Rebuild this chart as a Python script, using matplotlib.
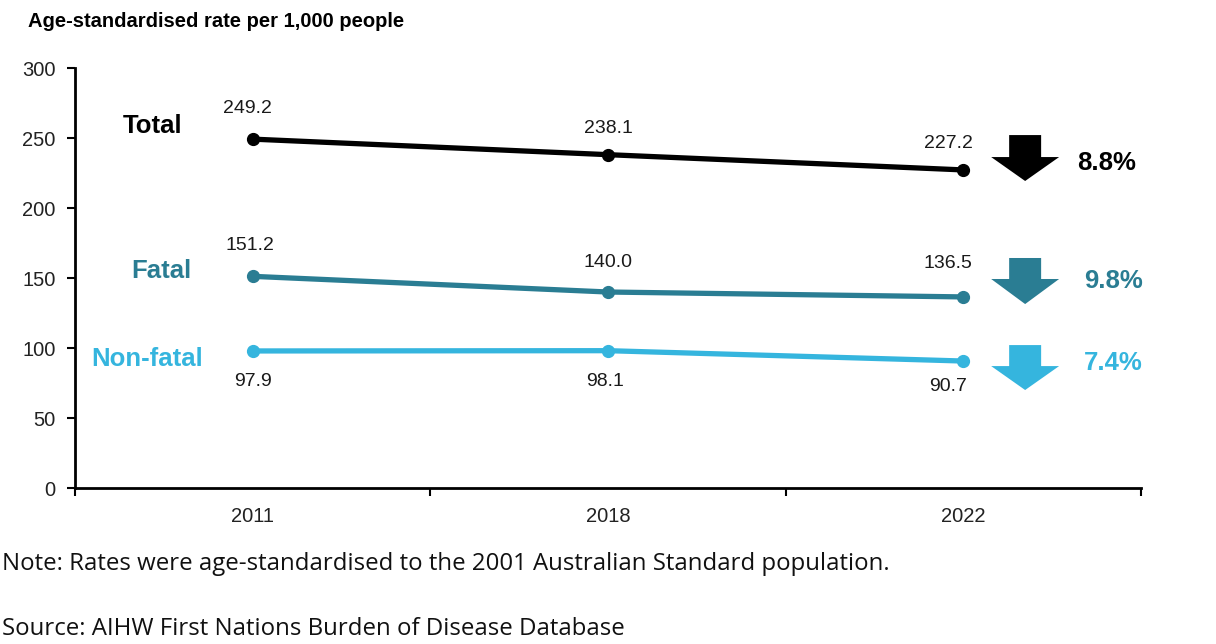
import numpy as np
import matplotlib.pyplot as plt
from matplotlib.patches import Polygon

years = ['2011', '2018', '2022']
total = [249.2, 238.1, 227.2]
fatal = [151.2, 140.0, 136.5]
nonfatal = [97.9, 98.1, 90.7]
changes = ['8.8%', '9.8%', '7.4%']
series_names = ['Total', 'Fatal', 'Non-fatal']

BLACK = '#000000'
TEAL = '#2a7d93'
LIGHT = '#35b5de'

plt.rcParams['font.family'] = ['Liberation Sans', 'DejaVu Sans']

fig = plt.figure(figsize=(12.16, 6.44), dpi=100)
ax = fig.add_axes([0.0617, 0.2422, 0.8766, 0.6522])

x = np.arange(len(years))
series = [total, fatal, nonfatal]
colors = [BLACK, TEAL, LIGHT]

for vals, c in zip(series, colors):
    ax.plot(x, vals, color=c, lw=3.8, marker='o', ms=8.5, solid_capstyle='round', zorder=3)

# value labels: offsets in points (dx, dy)
offsets = [
    [(-4, 22), (0, 19), (-11, 19)],
    [(-2, 22), (0, 21), (-11, 24)],
    [(0, -22), (-2, -22), (-11, -18)],
]
for vals, offs in zip(series, offsets):
    for xi, v, (dx, dy) in zip(x, vals, offs):
        ax.annotate(f'{v:.1f}', (xi, v), xytext=(dx, dy), textcoords='offset points',
                    ha='center', va='center', fontsize=14, color='#1a1a1a')

# series names on the left
name_pos = [(-0.281, 258.6), (-0.258, 155.0), (-0.298, 92.1)]
for name, (nx, ny), c in zip(series_names, name_pos, colors):
    ax.text(nx, ny, name, color=c, fontsize=18.5, fontweight='bold', ha='center', va='center')

# down arrows and percentage change
arrow_y = [(252.1, 236.4, 219.3), (164.3, 149.3, 131.4), (102.1, 87.1, 70.0)]
ax_c, hw_body, hw_head = 2.174, 0.045, 0.0956
pct_pos = [(2.402, 232.1), (2.424, 147.9), (2.421, 89.3)]
for (top, sh, tip), c, txt, (px, py) in zip(arrow_y, colors, changes, pct_pos):
    pts = [(ax_c - hw_body, top), (ax_c + hw_body, top), (ax_c + hw_body, sh),
           (ax_c + hw_head, sh), (ax_c, tip), (ax_c - hw_head, sh), (ax_c - hw_body, sh)]
    ax.add_patch(Polygon(pts, closed=True, facecolor=c, edgecolor='none', zorder=3))
    ax.text(px, py, txt, color=c, fontsize=18.5, fontweight='bold', ha='center', va='center')

ax.set_xlim(-0.5, 2.5)
ax.set_ylim(0, 300)
ax.set_yticks(np.arange(0, 301, 50))
ax.set_xticks([-0.5, 0.5, 1.5, 2.5])
ax.set_xticklabels([])
ax.set_xticks(x, minor=True)
ax.set_xticklabels(years, minor=True)
ax.tick_params(axis='x', which='major', length=6, width=1.5, direction='out')
ax.tick_params(axis='x', which='minor', length=0, pad=14, labelsize=14.5, labelcolor='#222222')
ax.tick_params(axis='y', length=6, width=1.5, pad=8, labelsize=14.5, labelcolor='#222222')

for s in ['top', 'right']:
    ax.spines[s].set_visible(False)
for s in ['left', 'bottom']:
    ax.spines[s].set_linewidth(2)

fig.text(0.023, 0.966, 'Age-standardised rate per 1,000 people', fontsize=14.5,
         fontweight='bold', ha='left', va='center')
fig.text(0.002, 0.124, 'Note: Rates were age-standardised to the 2001 Australian Standard population.',
         fontsize=17.3, family='Open Sans', color='#111111', ha='left', va='center')
fig.text(0.002, 0.024, 'Source: AIHW First Nations Burden of Disease Database',
         fontsize=17.3, family='Open Sans', color='#111111', ha='left', va='center')

fig.savefig('out.png', dpi=100)
